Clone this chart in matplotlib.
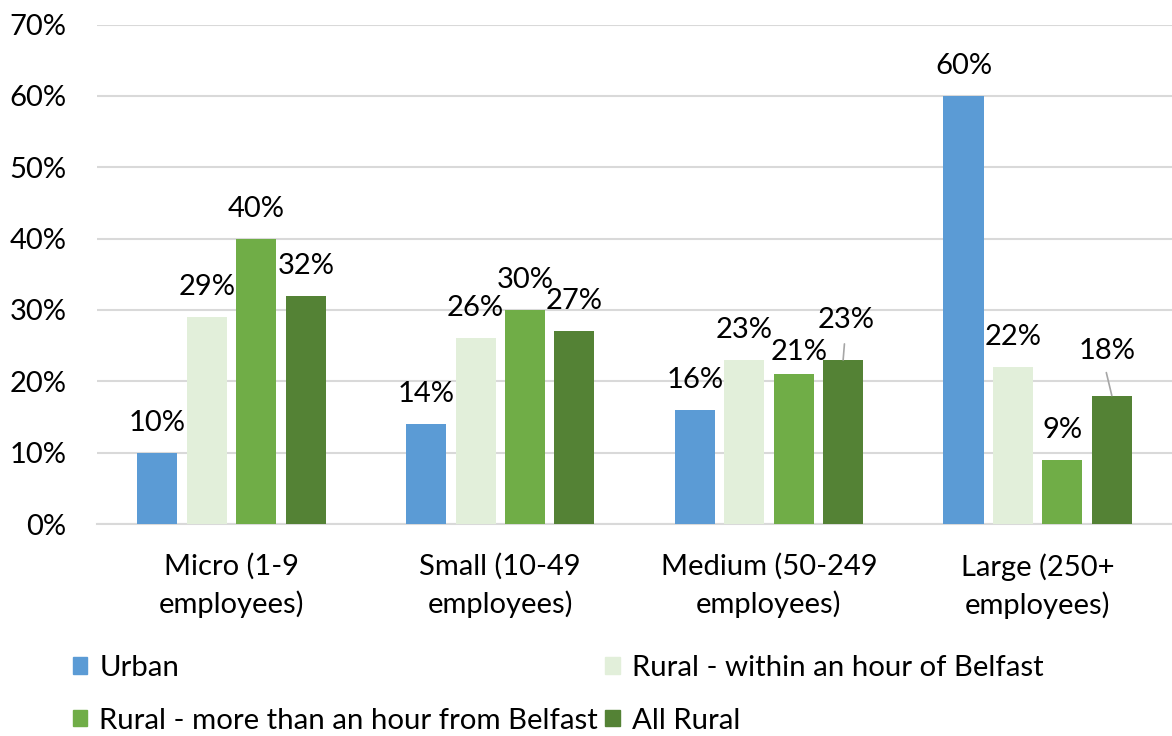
import numpy as np
import matplotlib.pyplot as plt
from matplotlib.patches import Patch

plt.rcParams['font.family'] = ['Lato', 'DejaVu Sans']

categories = ["Micro (1-9\nemployees)", "Small (10-49\nemployees)",
              "Medium (50-249\nemployees)", "Large (250+\nemployees)"]
series = ["Urban", "Rural - within an hour of Belfast",
          "Rural - more than an hour from Belfast", "All Rural"]
urban = [10, 14, 16, 60]
rural_near = [29, 26, 23, 22]
rural_far = [40, 30, 21, 9]
all_rural = [32, 27, 23, 18]
colors = ["#5B9BD5", "#E2EFDA", "#70AD47", "#548235"]

fig = plt.figure(figsize=(11.72, 7.36), dpi=100)
ax = fig.add_axes([0.083, 0.288, 0.917, 0.6787])

x = np.arange(len(categories))
width = 0.149
step = 0.184
values = [urban, rural_near, rural_far, all_rural]

# label offsets in pixels (dx, dy) for labels Excel nudged
nudges = {(2, 2): (5, 22), (3, 2): (3, 40), (3, 3): (-5, 45)}
leaders = {(3, 2), (3, 3)}

for i, (vals, col) in enumerate(zip(values, colors)):
    pos = x + (i - 1.5) * step
    ax.bar(pos, vals, width, color=col, zorder=3, label=series[i])
    for j, (p, v) in enumerate(zip(pos, vals)):
        dx, dy = nudges.get((i, j), (0, 30))
        ax.annotate(f"{v}%", (p, v), xytext=(dx, dy), textcoords='offset pixels',
                    ha='center', va='center', fontsize=21, color='black')
        if (i, j) in leaders:
            ax.annotate("", (p, v), xytext=(dx * 1.1 + (-2 if j == 2 else 0), 16 if j == 2 else 23),
                        textcoords='offset pixels',
                        arrowprops=dict(arrowstyle='-', color='#A6A6A6', lw=1.2,
                                        shrinkA=0, shrinkB=0))

ax.set_ylim(0, 70)
ax.set_xlim(-0.5, 3.5)
ax.set_yticks(np.arange(0, 71, 10))
ax.set_yticklabels([f"{t}%" for t in range(0, 71, 10)])
ax.set_xticks(x)
ax.set_xticklabels(categories, linespacing=1.45)
ax.tick_params(axis='both', length=0, labelsize=21)
ax.tick_params(axis='y', pad=22)
ax.tick_params(axis='x', pad=21)
ax.grid(axis='y', color='#D9D9D9', lw=1.5, zorder=0)
for s in ['top', 'right', 'left']:
    ax.spines[s].set_visible(False)
ax.spines['bottom'].set_color('#D9D9D9')
ax.spines['bottom'].set_linewidth(1.5)

handles = [Patch(color=c) for c in colors]
order = [0, 2, 1, 3]
fig.legend([handles[k] for k in order], [series[k] for k in order],
           ncol=2, loc='upper left', bbox_to_anchor=(0.062, 0.11),
           frameon=False, fontsize=21.2, handlelength=0.5, handleheight=0.5,
           handletextpad=0.4, columnspacing=0.25, labelspacing=0.9,
           borderpad=0, borderaxespad=0)

fig.savefig("out.png", dpi=100)
